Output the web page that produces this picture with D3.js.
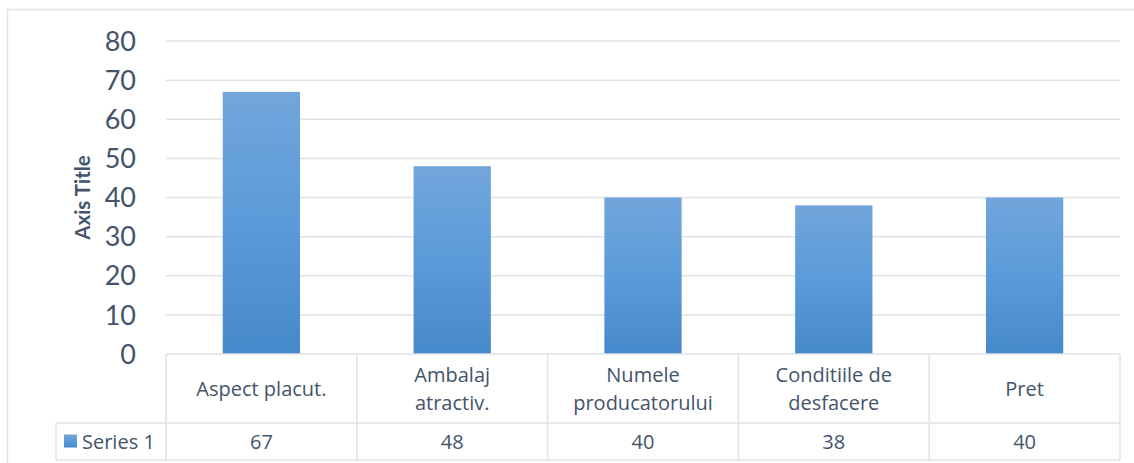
<!DOCTYPE html>
<html>
<head>
<meta charset="utf-8">
<script src="https://cdn.jsdelivr.net/npm/d3@7"></script>
<style>
  body { margin: 0; background: #fff; }
  svg { display: block; font-family: Lato, "Open Sans", sans-serif; }
  .grid line { stroke: #dfe2e7; stroke-width: 1.5; }
  .tbl line { stroke: #dfe2e7; stroke-width: 1.5; }
  .cell { font-family: "Open Sans", Lato, sans-serif; }
</style>
</head>
<body>
<svg id="chart" width="1134" height="463"></svg>
<script>
// chart data
const categories = [["Aspect placut."], ["Ambalaj", "atractiv."], ["Numele", "producatorului"], ["Conditiile de", "desfacere"], ["Pret"]];
const values = [67, 48, 40, 38, 40];
const seriesName = "Series 1";
const yTicks = [0, 10, 20, 30, 40, 50, 60, 70, 80];

const W = 1134, H = 463;
const plotLeft = 166, plotRight = 1120, plotTop = 41, plotBottom = 354;
const rowBottom = 423, tableBottom = 460, legendLeft = 56;
const textColor = "#44546a";
const cellSize = 20;

const svg = d3.select("#chart");

// gradient for bars
const grad = svg.append("defs").append("linearGradient")
    .attr("id", "barGrad").attr("x1", 0).attr("y1", 0).attr("x2", 0).attr("y2", 1);
grad.append("stop").attr("offset", "0%").attr("stop-color", "#72a6db");
grad.append("stop").attr("offset", "50%").attr("stop-color", "#5a9bd9");
grad.append("stop").attr("offset", "100%").attr("stop-color", "#4689ca");

// outer frame
svg.append("path")
    .attr("d", `M7.5,${H} V9.5 H${W}`)
    .attr("fill", "none").attr("stroke", "#dfe2e7").attr("stroke-width", 1.5);

const x = d3.scaleBand().domain(d3.range(categories.length)).range([plotLeft, plotRight]);
const y = d3.scaleLinear().domain([0, 80]).range([plotBottom, plotTop]);

// gridlines
svg.append("g").attr("class", "grid")
    .selectAll("line").data(yTicks.slice(1)).join("line")
    .attr("x1", plotLeft).attr("x2", plotRight)
    .attr("y1", d => y(d)).attr("y2", d => y(d));

// y tick labels
svg.append("g").selectAll("text").data(yTicks).join("text")
    .attr("x", 136).attr("y", d => y(d))
    .attr("dy", "0.36em").attr("text-anchor", "end")
    .attr("font-size", 27).attr("fill", textColor)
    .text(d => d);

// axis title
svg.append("text")
    .attr("transform", `translate(90,${(plotTop + plotBottom) / 2}) rotate(-90)`)
    .attr("text-anchor", "middle").attr("font-size", 20.5).attr("font-weight", "bold")
    .attr("fill", textColor).text("Axis Title");

// bars
const bw = x.bandwidth() * 0.405;
svg.append("g").selectAll("rect").data(values).join("rect")
    .attr("x", (d, i) => x(i) + (x.bandwidth() - bw) / 2)
    .attr("width", bw)
    .attr("y", d => y(d))
    .attr("height", d => y(0) - y(d))
    .attr("fill", "url(#barGrad)");

// data table
const tbl = svg.append("g").attr("class", "tbl");
tbl.append("line").attr("x1", plotLeft).attr("x2", plotRight).attr("y1", plotBottom).attr("y2", plotBottom);
tbl.append("line").attr("x1", legendLeft).attr("x2", plotRight).attr("y1", rowBottom).attr("y2", rowBottom);
tbl.append("line").attr("x1", legendLeft).attr("x2", plotRight).attr("y1", tableBottom).attr("y2", tableBottom);
tbl.append("line").attr("x1", legendLeft).attr("x2", legendLeft).attr("y1", rowBottom).attr("y2", tableBottom);
tbl.selectAll(".vl").data(d3.range(categories.length + 1)).join("line")
    .attr("class", "vl")
    .attr("x1", i => i < categories.length ? x(i) : plotRight)
    .attr("x2", i => i < categories.length ? x(i) : plotRight)
    .attr("y1", plotBottom).attr("y2", tableBottom);

// category labels, one text per line so lines keep their spacing
const catMid = (plotBottom + rowBottom) / 2 + 0.5;
const lh = 28;
const catLines = categories.flatMap((lines, i) =>
    lines.map((s, k) => ({ s, i, off: (k - (lines.length - 1) / 2) * lh })));
svg.append("g").selectAll("text").data(catLines).join("text")
    .attr("class", "cell")
    .attr("x", d => x(d.i) + x.bandwidth() / 2)
    .attr("y", d => catMid + d.off)
    .attr("dy", "0.35em")
    .attr("text-anchor", "middle").attr("font-size", cellSize).attr("fill", textColor)
    .text(d => d.s);

// value row
const valMid = (rowBottom + tableBottom) / 2;
svg.append("g").selectAll("text").data(values).join("text")
    .attr("class", "cell")
    .attr("x", (d, i) => x(i) + x.bandwidth() / 2)
    .attr("y", valMid).attr("dy", "0.35em")
    .attr("text-anchor", "middle").attr("font-size", cellSize).attr("fill", textColor)
    .text(d => d);

// legend key
svg.append("rect").attr("x", 64).attr("y", valMid - 7).attr("width", 13).attr("height", 13)
    .attr("fill", "url(#barGrad)");
svg.append("text").attr("class", "cell").attr("x", 82).attr("y", valMid).attr("dy", "0.35em")
    .attr("font-size", cellSize).attr("fill", textColor).text(seriesName);
</script>
</body>
</html>
